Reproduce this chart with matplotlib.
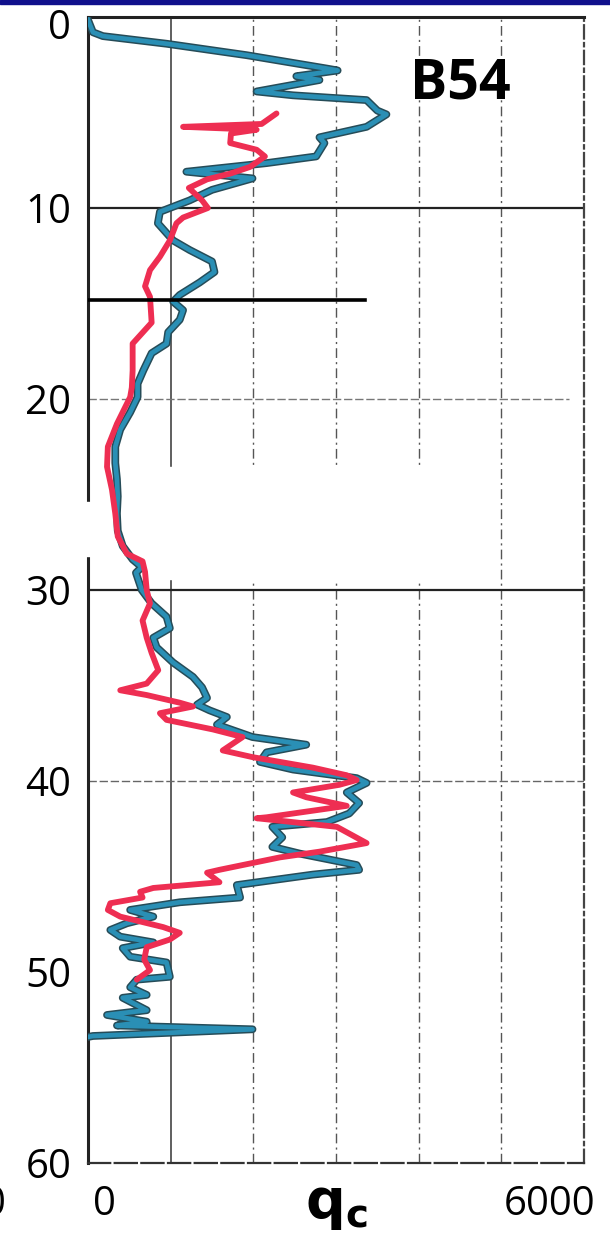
import matplotlib.pyplot as plt
import matplotlib.patheffects as pe
from matplotlib.patches import Rectangle
from matplotlib.transforms import ScaledTranslation

# sounding B54: depth (m) vs cone resistance qc
blue_depth = [0.15, 0.8, 1.0, 1.4, 2.0, 2.7, 2.8, 3.1, 3.3, 3.9, 4.1, 4.35, 4.9, 5.1,
              5.75, 6.3, 6.6, 7.3, 7.65, 8.1, 8.45, 9.05, 9.6, 10.2, 10.8, 11.7, 12.2,
              12.8, 13.35, 13.9, 14.55, 14.9, 15.35, 15.85, 16.5, 17.1, 17.6, 18.5, 19.2,
              19.9, 20.7, 21.6, 22.5, 23.35, 24.2, 25.1, 26.0, 26.9, 27.7, 28.4, 28.8,
              29.1, 30.0, 30.7, 31.4, 32.0, 32.5, 33.0, 33.8, 34.55, 35.1, 35.65, 36.0,
              36.3, 36.65, 37.05, 37.7, 38.1, 38.5, 39.0, 39.4, 39.85, 40.1, 40.6, 41.15,
              41.7, 42.15, 42.4, 42.95, 43.45, 43.8, 44.4, 44.65, 44.9, 45.45, 46.1,
              46.35, 46.75, 47.1, 47.45, 47.8, 48.15, 48.45, 48.75, 49.2, 49.5, 50.25,
              50.4, 50.8, 51.2, 51.35, 52.0, 52.25, 52.6, 52.8, 53.0, 53.35, 53.4]
blue_qc = [0, 60, 180, 950, 1920, 2890, 3020, 2520, 2800, 2040, 2480, 3370, 3500, 3610,
           3370, 2800, 2860, 2760, 2160, 1190, 1990, 1500, 1230, 870, 845, 1030, 1230,
           1500, 1530, 1350, 1110, 1030, 1150, 1110, 970, 950, 770, 670, 600,
           600, 510, 390, 330, 330, 350, 360, 350, 360, 420, 540, 650,
           580, 650, 770, 950, 990, 790, 830, 1030, 1270, 1380, 1440, 1320,
           1470, 1680, 1560, 1990, 2640, 2160, 2080, 2480, 3250, 3370, 3130, 3280,
           3160, 2890, 2230, 2350, 2230, 2560, 3250, 3280, 2720, 1800, 1840,
           1110, 510, 790, 470, 270, 390, 790, 420, 510, 950, 990,
           590, 510, 710, 420, 710, 230, 710, 350, 1990, 60, 0]

red_depth = [5.05, 5.6, 5.75, 5.9, 6.1, 6.6, 6.95, 7.3, 7.85, 8.2, 8.5, 8.95, 9.6, 10.0,
             10.5, 10.8, 11.7, 12.55, 13.25, 14.1, 14.65, 16.0, 17.1, 18.5, 19.4, 19.9,
             21.3, 22.5, 23.55, 24.75, 26.0, 27.2, 28.1, 28.5, 29.05, 30.0, 30.7, 31.6,
             32.5, 33.3, 34.2, 34.9, 35.25, 35.5, 35.9, 36.1, 36.45, 36.8, 37.3, 37.7,
             38.4, 38.75, 39.3, 39.7, 39.95, 40.2, 40.6, 40.85, 41.3, 41.9, 41.95, 42.4,
             43.25, 43.7, 44.0, 44.65, 44.8, 45.3, 45.6, 45.8, 46.1, 46.4, 46.75, 47.1,
             47.65, 47.95, 48.3, 48.7, 49.35, 49.9, 50.4]
red_qc = [2280, 2100, 1150, 2040, 1730, 1720, 2040, 2140, 1960, 1720, 1440, 1220, 1380, 1450,
          1150, 1070, 990, 870, 750, 690, 750, 770, 540, 540, 530, 510,
          350, 240, 230, 290, 330, 360, 470, 660, 690, 710, 750, 660,
          710, 770, 850, 710, 390, 710, 1110, 1270, 870, 950, 1510, 1870,
          1630, 1990, 2720, 3130, 3250, 3040, 2480, 2640, 3130, 2160, 2040, 3010,
          3370, 2800, 2320, 1590, 1440, 1590, 790, 630, 660, 270, 240, 390,
          910, 1110, 990, 710, 680, 750, 590]

depth_ticks = [0, 10, 20, 30, 40, 50, 60]
marker_depth = 14.8
marker_qc = 3350

fig = plt.figure(figsize=(6.1, 12.34), dpi=100)
fig.patches.append(Rectangle((0, 1 - 4 / 1234), 1, 4 / 1234, transform=fig.transFigure,
                             color='#10108c', zorder=10))
ax = fig.add_axes([88 / 610, 71 / 1234, 496 / 610, 1146 / 1234])
ax.set_xlim(0, 6000)
ax.set_ylim(60, 0)

# scanned grid
ax.axvline(1000, color='#444444', lw=1.2, zorder=1)
for q in [2000, 3000, 4000, 5000]:
    ax.axvline(q, color='#555555', lw=1.0, ls=(0, (7, 3, 1.5, 3)), zorder=1)
for d in [10, 30]:
    ax.axhline(d, color='#222222', lw=1.6, zorder=1)
ax.axhline(20, xmax=0.97, color='#777777', lw=1.0, ls=(0, (6, 2)), zorder=1)
ax.axhline(40, color='#666666', lw=1.0, ls=(0, (6, 2)), zorder=1)

# white blotch from the scan
ax.add_patch(Rectangle((25, 23.55), 4500, 5.85, color='white', zorder=2))
ax.add_patch(Rectangle((-80, 25.4), 180, 2.8, color='white', zorder=6, clip_on=False))

ax.plot([0, marker_qc], [marker_depth, marker_depth], color='black', lw=2.6, zorder=4)

ax.plot(blue_qc, blue_depth, color='#2a8fb5', lw=3.4, zorder=3, solid_joinstyle='round',
        path_effects=[pe.Stroke(linewidth=5.6, foreground='#264c58'), pe.Normal()])
ax.plot(red_qc, red_depth, color='#ee2e52', lw=4.2, zorder=3, solid_capstyle='round',
        solid_joinstyle='round')

for s in ['top', 'left']:
    ax.spines[s].set_linewidth(2.2)
    ax.spines[s].set_color('#222222')
ax.spines['bottom'].set_linestyle((0, (10, 2)))
ax.spines['bottom'].set_color('#333333')
ax.spines['bottom'].set_linewidth(1.6)
ax.spines['right'].set_linestyle((0, (6, 2, 1.5, 2)))
ax.spines['right'].set_color('#444444')
ax.spines['right'].set_linewidth(1.6)

ax.set_yticks(depth_ticks, [str(d) for d in depth_ticks])
ax.set_xticks([])
ax.tick_params(axis='y', length=0, pad=12, labelsize=29)
for lab in ax.get_yticklabels():
    lab.set_family('Open Sans')
first = ax.get_yticklabels()[0]
first.set_transform(first.get_transform() + ScaledTranslation(0, -7 / 100, fig.dpi_scale_trans))

fig.text(104 / 610, 1 - 1205 / 1234, '0', ha='center', va='center', fontsize=29, family='Open Sans')
fig.text(550 / 610, 1 - 1205 / 1234, '6000', ha='center', va='center', fontsize=29, family='Open Sans')
fig.text(6 / 610, 1 - 1205 / 1234, '0', ha='right', va='center', fontsize=29, family='Open Sans')
fig.text(336 / 610, 1 - 1203 / 1234, r'$\mathbf{q}_\mathbf{c}$', ha='center', va='center',
         fontsize=40, family='Open Sans')
fig.text(460 / 610, 1 - 84 / 1234, 'B54', ha='center', va='center', fontsize=40,
         fontweight='bold', family='Open Sans')

fig.savefig('out.png', dpi=100)
